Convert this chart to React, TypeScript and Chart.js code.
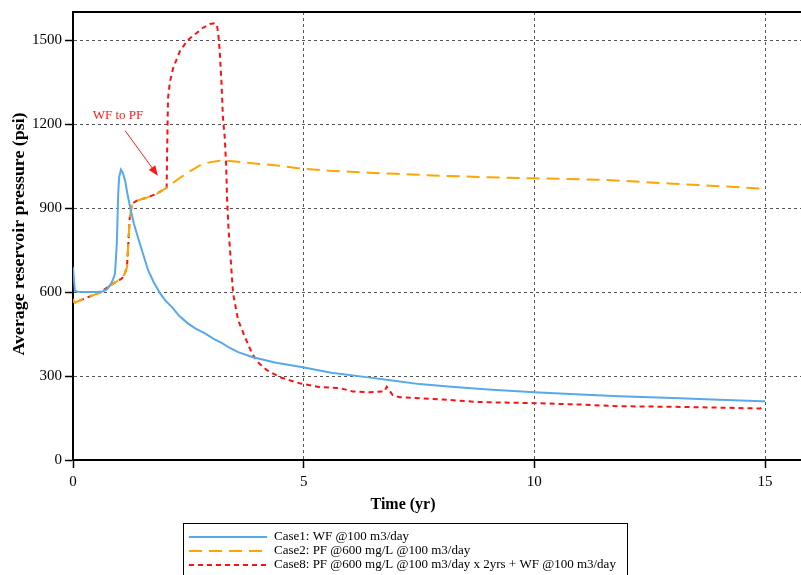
import { useEffect, useRef } from "react";
import { Chart, registerables } from "chart.js";

Chart.register(...registerables);

const FONT = '"Liberation Serif", "Times New Roman", serif';

const xTicks = [0, 5, 10, 15];
const yTicks = [0, 300, 600, 900, 1200, 1500];

const seriesLabels = [
  "Case1: WF @100 m3/day",
  "Case2: PF @600 mg/L @100 m3/day",
  "Case8: PF @600 mg/L @100 m3/day x 2yrs + WF @100 m3/day",
];

const case1Time = [0, 0.04, 0.1, 0.3, 0.5, 0.65, 0.75, 0.84, 0.88, 0.91, 0.95, 0.98, 1.0, 1.04, 1.08, 1.13, 1.18, 1.24, 1.32, 1.41, 1.52, 1.63, 1.75, 1.89, 2.0, 2.15, 2.3, 2.49, 2.65, 2.86, 3.05, 3.23, 3.4, 3.58, 3.9, 4.4, 4.98, 5.6, 6.36, 7.0, 7.51, 8.2, 9.0, 10.0, 11.0, 11.84, 13.0, 14.0, 14.94, 15.0];
const case1Pressure = [688, 605, 601, 600, 600, 602, 612, 634, 650, 666, 773, 951, 1010, 1037, 1025, 997, 950, 901, 844, 794, 735, 677, 635, 595, 570, 545, 515, 488, 470, 452, 433, 417, 400, 385, 367, 347, 331, 312, 296, 282, 271, 262, 252, 242, 234, 228, 221, 215, 210, 210];

const case2Time = [0, 0.01, 0.05, 0.3, 0.58, 0.87, 1.06, 1.12, 1.17, 1.19, 1.23, 1.28, 1.38, 1.6, 1.82, 2.03, 2.32, 2.55, 2.75, 2.95, 3.18, 3.4, 3.77, 4.48, 4.98, 5.56, 6.43, 7.0, 8.0, 9.0, 10.0, 11.4, 12.0, 13.0, 14.0, 14.94, 15.0];
const case2Pressure = [575, 565, 563, 580, 598, 630, 648, 665, 688, 748, 866, 915, 926, 937, 951, 973, 1008, 1033, 1052, 1063, 1069, 1068, 1062, 1051, 1040, 1033, 1026, 1022, 1015, 1010, 1006, 1001, 996, 987, 978, 969, 960];

const case8Time = [0, 0.01, 0.05, 0.3, 0.58, 0.87, 1.06, 1.12, 1.17, 1.19, 1.23, 1.28, 1.38, 1.6, 1.82, 2.03, 2.04, 2.06, 2.1, 2.17, 2.32, 2.49, 2.68, 2.81, 2.97, 3.08, 3.12, 3.15, 3.18, 3.22, 3.25, 3.29, 3.32, 3.34, 3.37, 3.42, 3.47, 3.58, 3.73, 3.88, 4.0, 4.2, 4.48, 4.91, 5.35, 5.78, 6.06, 6.43, 6.75, 6.8, 6.85, 6.93, 7.08, 7.36, 8.0, 8.8, 10.0, 11.0, 11.84, 13.0, 14.0, 14.9, 15.0];
const case8Pressure = [575, 565, 563, 580, 598, 630, 648, 665, 688, 748, 866, 915, 926, 937, 951, 973, 1100, 1293, 1350, 1400, 1461, 1500, 1525, 1543, 1557, 1560, 1553, 1520, 1461, 1343, 1222, 1150, 1050, 930, 830, 712, 595, 499, 438, 381, 350, 321, 296, 274, 260, 257, 245, 242, 245, 262, 250, 232, 224, 222, 216, 207, 203, 198, 192, 190, 187, 184, 192];

const annotationText = "WF to PF";
const annotationAt = { x: 0.975, y: 1229 };
const arrowFrom = { x: 1.13, y: 1176 };
const arrowTo = { x: 1.84, y: 1015 };

const COLORS = ["#56a9ec", "#ffa500", "#ff1010"];
const DASHES: number[][] = [[], [13, 7], [5, 4]];

function pts(t: number[], p: number[]) {
  return t.map((x, i) => ({ x, y: p[i] }));
}

const overlayPlugin = {
  id: "overlay",
  afterDraw(chart: any) {
    const { ctx, chartArea } = chart;
    const xs = chart.scales.x;
    const ys = chart.scales.y;
    ctx.save();
    // top frame line
    ctx.strokeStyle = "#000";
    ctx.lineWidth = 2;
    ctx.beginPath();
    ctx.moveTo(chartArea.left, chartArea.top);
    ctx.lineTo(chartArea.right, chartArea.top);
    ctx.stroke();

    // annotation
    ctx.fillStyle = "#ff1a1a";
    ctx.font = `13px ${FONT}`;
    ctx.textAlign = "center";
    ctx.textBaseline = "middle";
    ctx.fillText(annotationText, xs.getPixelForValue(annotationAt.x), ys.getPixelForValue(annotationAt.y));
    const x1 = xs.getPixelForValue(arrowFrom.x);
    const y1 = ys.getPixelForValue(arrowFrom.y);
    const x2 = xs.getPixelForValue(arrowTo.x);
    const y2 = ys.getPixelForValue(arrowTo.y);
    const ang = Math.atan2(y2 - y1, x2 - x1);
    const hl = 10;
    const hw = 4;
    ctx.strokeStyle = "#ff1a1a";
    ctx.lineWidth = 1;
    ctx.beginPath();
    ctx.moveTo(x1, y1);
    ctx.lineTo(x2 - Math.cos(ang) * hl * 0.8, y2 - Math.sin(ang) * hl * 0.8);
    ctx.stroke();
    ctx.beginPath();
    ctx.moveTo(x2, y2);
    ctx.lineTo(x2 - Math.cos(ang) * hl - Math.sin(ang) * hw, y2 - Math.sin(ang) * hl + Math.cos(ang) * hw);
    ctx.lineTo(x2 - Math.cos(ang) * hl + Math.sin(ang) * hw, y2 - Math.sin(ang) * hl - Math.cos(ang) * hw);
    ctx.closePath();
    ctx.fill();

    // axis titles
    ctx.fillStyle = "#000";
    ctx.font = `bold 16px ${FONT}`;
    ctx.textAlign = "center";
    ctx.textBaseline = "middle";
    ctx.fillText("Time (yr)", 403, 505);
    ctx.save();
    ctx.translate(20, 234);
    ctx.rotate(-Math.PI / 2);
    ctx.scale(1.05, 1);
    ctx.font = `bold 17px ${FONT}`;
    ctx.fillText("Average reservoir pressure (psi)", 0, 0);
    ctx.restore();

    // legend
    ctx.strokeStyle = "#000";
    ctx.lineWidth = 1;
    ctx.setLineDash([]);
    ctx.strokeRect(183.5, 523.5, 444, 60);
    ctx.font = `13px ${FONT}`;
    ctx.textAlign = "left";
    ctx.textBaseline = "middle";
    seriesLabels.forEach((lab, i) => {
      const y = 537 + i * 14;
      ctx.save();
      ctx.strokeStyle = COLORS[i];
      ctx.lineWidth = 2;
      ctx.setLineDash(DASHES[i]);
      ctx.beginPath();
      ctx.moveTo(189, y);
      ctx.lineTo(267, y);
      ctx.stroke();
      ctx.restore();
      ctx.fillStyle = "#000";
      ctx.fillText(lab, 274, y);
    });
    ctx.restore();
  },
};

export default function App() {
  const ref = useRef<HTMLCanvasElement>(null);
  useEffect(() => {
    const tickFont = { family: FONT, size: 15 };
    const grid = { color: "#555", lineWidth: 1, tickLength: 8, tickColor: "#000", tickWidth: 1.5 };
    const border = { color: "#000", width: 2, dash: [3, 3] };
    const fmt = (v: any) => String(v);
    const chart = new Chart(ref.current!, {
      type: "line",
      data: {
        datasets: [
          { label: seriesLabels[0], data: pts(case1Time, case1Pressure) },
          { label: seriesLabels[1], data: pts(case2Time, case2Pressure) },
          { label: seriesLabels[2], data: pts(case8Time, case8Pressure) },
        ].map((d, i) => ({
          ...d,
          borderColor: COLORS[i],
          backgroundColor: COLORS[i],
          borderWidth: 2,
          borderDash: DASHES[i],
          pointRadius: 0,
          tension: 0,
          fill: false,
        })),
      },
      options: {
        animation: false,
        responsive: false,
        layout: { padding: { top: 11, left: 0, right: 0, bottom: 0 } },
        plugins: { legend: { display: false }, tooltip: { enabled: false } },
        scales: {
          x: {
            type: "linear",
            min: 0,
            max: 15.78,
            afterBuildTicks: (s: any) => {
              s.ticks = xTicks.map((v) => ({ value: v }));
            },
            afterFit: (s: any) => {
              s.height = 115;
            },
            ticks: { font: tickFont, color: "#000", padding: 5, maxRotation: 0, autoSkip: false, callback: fmt },
            grid,
            border,
          },
          y: {
            type: "linear",
            min: 0,
            max: 1600,
            afterBuildTicks: (s: any) => {
              s.ticks = yTicks.map((v) => ({ value: v }));
            },
            afterFit: (s: any) => {
              s.width = 73;
            },
            ticks: { font: tickFont, color: "#000", padding: 3, autoSkip: false, callback: fmt },
            grid,
            border,
          },
        },
      } as any,
      plugins: [overlayPlugin],
    });
    return () => chart.destroy();
  }, []);
  return (
    <div style={{ position: "absolute", left: 0, top: 0, width: 801, height: 575, background: "#fff" }}>
      <canvas ref={ref} width={801} height={575} style={{ display: "block" }} />
    </div>
  );
}
